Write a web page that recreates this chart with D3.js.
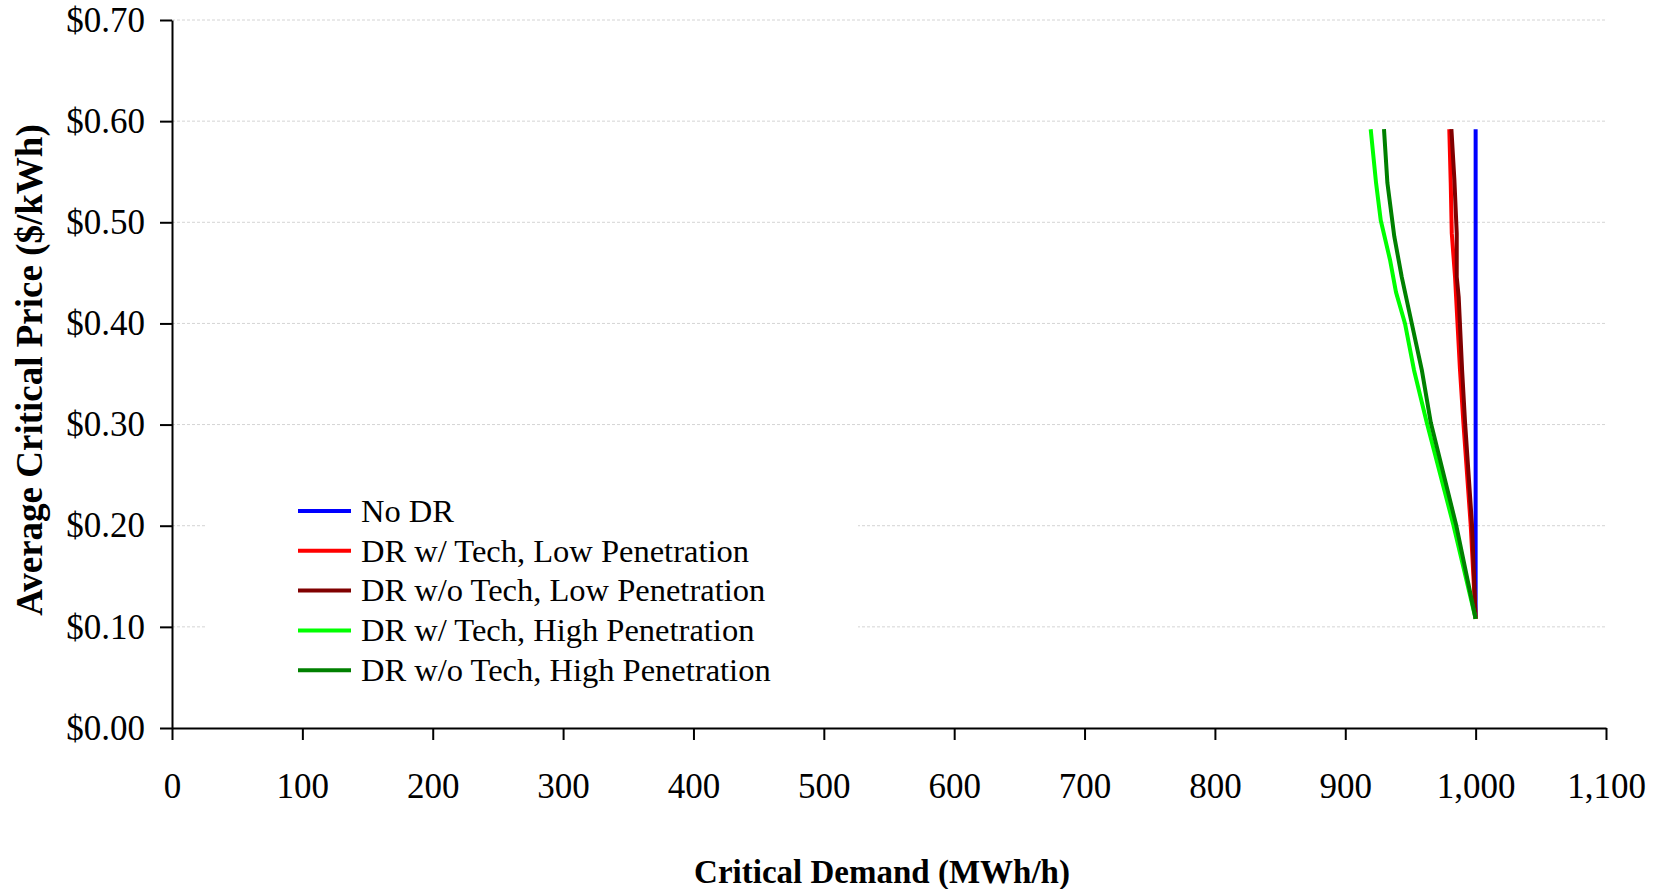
<!DOCTYPE html>
<html>
<head>
<meta charset="utf-8">
<script src="https://cdn.jsdelivr.net/npm/d3@7"></script>
<style>
  body { margin: 0; background: #fff; }
  svg { display: block; }
</style>
</head>
<body>
<div id="chart"></div>
<script>
// Demand-response scenarios: average critical price vs. critical demand
const seriesNames = [
  "No DR",
  "DR w/ Tech, Low Penetration",
  "DR w/o Tech, Low Penetration",
  "DR w/ Tech, High Penetration",
  "DR w/o Tech, High Penetration"
];
const seriesColors = ["#0000FF", "#FF0000", "#800000", "#00FF00", "#008000"];

// price ($/kWh) and demand (MWh/h) pairs for each scenario
const noDrPrice = [0.108, 0.592];
const noDrDemand = [1000, 1000];
const techLowPrice = [0.108, 0.201, 0.302, 0.354, 0.446, 0.489, 0.539, 0.592];
const techLowDemand = [1000, 996.2, 990.6, 988.0, 984.2, 981.7, 980.9, 979.8];
const noTechLowPrice = [0.108, 0.201, 0.302, 0.354, 0.426, 0.446, 0.489, 0.542, 0.592];
const noTechLowDemand = [1000, 997.2, 991.9, 989.6, 987.0, 985.5, 985.5, 983.7, 981.4];
const techHighPrice = [0.108, 0.201, 0.302, 0.354, 0.400, 0.431, 0.463, 0.502, 0.539, 0.592];
const techHighDemand = [1000, 982.9, 962.5, 952.7, 945.8, 938.9, 934.3, 927.2, 923.6, 919.5];
const noTechHighPrice = [0.108, 0.201, 0.302, 0.354, 0.400, 0.446, 0.486, 0.539, 0.592];
const noTechHighDemand = [1000, 985.0, 965.6, 958.7, 951.0, 943.3, 937.6, 932.3, 929.7];

const xTicks = [0, 100, 200, 300, 400, 500, 600, 700, 800, 900, 1000, 1100];
const yTicks = [0, 0.1, 0.2, 0.3, 0.4, 0.5, 0.6, 0.7];

const xTitle = "Critical Demand (MWh/h)";
const yTitle = "Average Critical Price ($/kWh)";

const seriesPrices = [noDrPrice, techLowPrice, noTechLowPrice, techHighPrice, noTechHighPrice];
const seriesDemands = [noDrDemand, techLowDemand, noTechLowDemand, techHighDemand, noTechHighDemand];
const series = seriesNames.map((name, i) => ({
  name,
  color: seriesColors[i],
  points: seriesPrices[i].map((p, j) => ({ price: p, demand: seriesDemands[i][j] }))
}));

const W = 1659, H = 889;
const FONT = "'Liberation Serif', 'Times New Roman', serif";

const svg = d3.select("#chart").append("svg")
  .attr("width", W).attr("height", H)
  .style("font-family", FONT);

const x = d3.scaleLinear().domain([0, 1100]).range([172, 1606]);
const y = d3.scaleLinear().domain([0, 0.7]).range([728, 20]);

// horizontal gridlines
svg.append("g").selectAll("line")
  .data(yTicks.filter(d => d > 0))
  .join("line")
  .attr("x1", x(0)).attr("x2", x(1100))
  .attr("y1", d => y(d)).attr("y2", d => y(d))
  .attr("stroke", "#d4d4d4")
  .attr("stroke-width", 1)
  .attr("stroke-dasharray", "3,2");

// legend panel sits over the gridlines
svg.append("rect")
  .attr("x", 205).attr("y", 488)
  .attr("width", 653).attr("height", 205)
  .attr("fill", "#fff");

// scenario lines
const line = d3.line()
  .x(d => x(d.demand))
  .y(d => y(d.price));

svg.append("g").selectAll("path")
  .data(series)
  .join("path")
  .attr("d", d => line(d.points))
  .attr("fill", "none")
  .attr("stroke", d => d.color)
  .attr("stroke-width", 4)
  .attr("stroke-linejoin", "round");

// axes
const xAxis = svg.append("g")
  .attr("transform", `translate(0,${y(0)})`)
  .call(d3.axisBottom(x).tickValues(xTicks).tickFormat(d3.format(","))
    .tickSize(12).tickSizeOuter(0).tickPadding(33));

const yAxis = svg.append("g")
  .attr("transform", `translate(${x(0)},0)`)
  .call(d3.axisLeft(y).tickValues(yTicks).tickFormat(d3.format("$.2f"))
    .tickSize(12).tickSizeOuter(0).tickPadding(15));

[xAxis, yAxis].forEach(g => {
  g.attr("font-family", FONT).attr("font-size", 35);
  g.select(".domain").attr("stroke", "#000").attr("stroke-width", 2);
  g.selectAll(".tick line").attr("stroke", "#000").attr("stroke-width", 2);
  g.selectAll(".tick text").attr("fill", "#000");
});

// axis titles
svg.append("text")
  .attr("x", 882).attr("y", 883)
  .attr("text-anchor", "middle")
  .attr("font-size", 33).attr("font-weight", "bold")
  .text(xTitle);

svg.append("text")
  .attr("transform", "translate(42,370) rotate(-90)")
  .attr("text-anchor", "middle")
  .attr("font-size", 37).attr("font-weight", "bold")
  .text(yTitle);

// legend
const legend = svg.append("g").selectAll("g")
  .data(series)
  .join("g")
  .attr("transform", (d, i) => `translate(298,${511 + i * 39.8})`);

legend.append("line")
  .attr("x1", 0).attr("x2", 53)
  .attr("stroke", d => d.color)
  .attr("stroke-width", 4);

legend.append("text")
  .attr("x", 63).attr("dy", "0.33em")
  .attr("font-size", 32.5)
  .text(d => d.name);
</script>
</body>
</html>
